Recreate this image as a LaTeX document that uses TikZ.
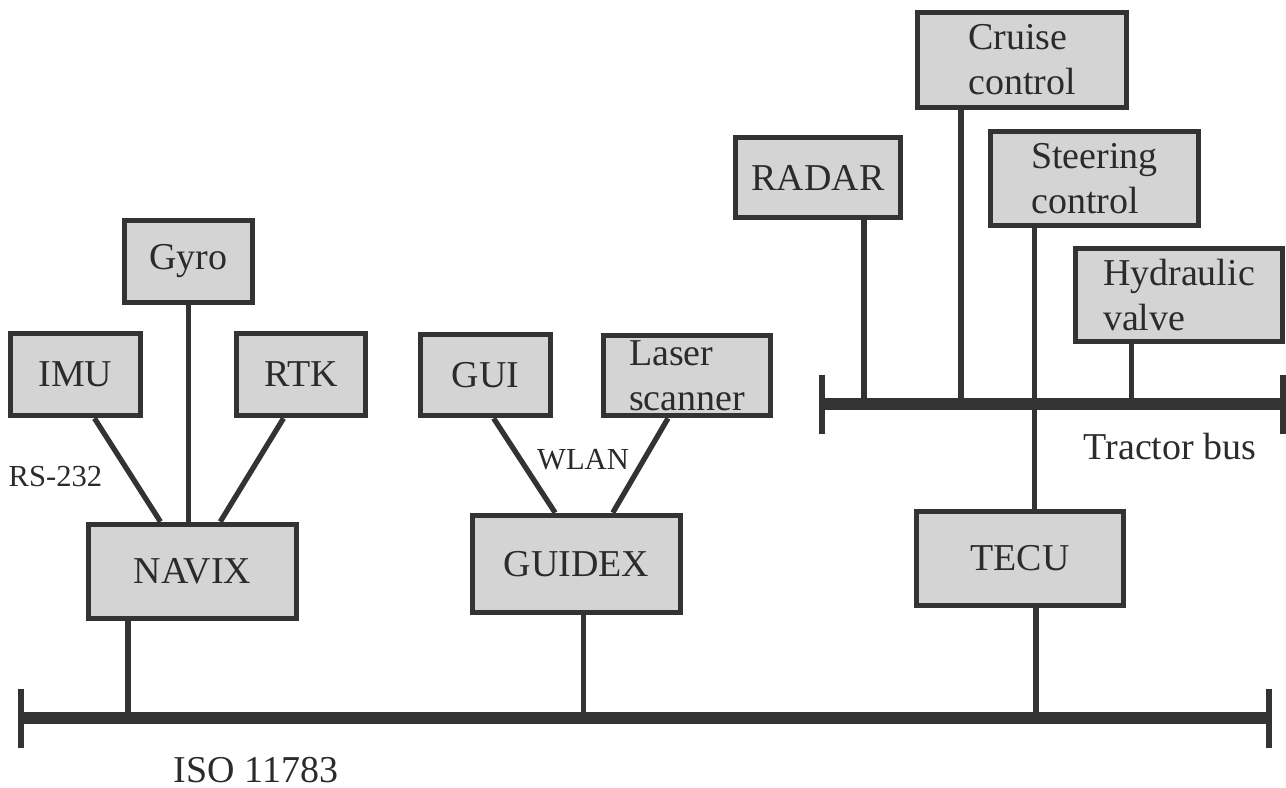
\documentclass[tikz,border=0pt]{standalone}
\usepackage{fontspec}
\setmainfont{Liberation Serif}
\usetikzlibrary{calc}
\definecolor{linegray}{HTML}{333333}
\definecolor{boxgray}{HTML}{D4D4D4}
\definecolor{textgray}{HTML}{2B2B2B}
\begin{document}
\begin{tikzpicture}[
  unit/.style={draw=linegray,fill=boxgray,line width=1.6pt,inner sep=1pt,
    align=left,text=textgray,font=\fontsize{10.8}{12.8}\selectfont},
  link/.style={draw=linegray,line width=1.5pt},
  bus/.style={draw=linegray,line width=3.2pt},
  busend/.style={draw=linegray,line width=1.6pt},
  lbl/.style={text=textgray,font=\fontsize{10.8}{12.8}\selectfont,inner sep=0pt},
  small/.style={text=textgray,font=\fontsize{8.7}{10}\selectfont,inner sep=0pt}]
  \useasboundingbox (0,0) rectangle (12.86,-7.87);

  % Navigation
  \node[unit,minimum width=1.28cm,minimum height=0.82cm] (gyro) at(1.885,-2.615) {Gyro};
  \node[unit,minimum width=1.30cm,minimum height=0.82cm] (imu) at(0.755,-3.745) {IMU};
  \node[unit,minimum width=1.29cm,minimum height=0.82cm] (rtk) at(3.01,-3.745) {RTK};
  \node[unit,minimum width=2.08cm,minimum height=0.94cm] (navix) at(1.925,-5.715) {NAVIX};

  % Guidance
  \node[unit,minimum width=1.30cm,minimum height=0.81cm] (gui) at(4.855,-3.75) {GUI};
  \node[unit,minimum width=1.67cm,minimum height=0.80cm] (laser) at(6.87,-3.755) {Laser\\scanner};
  \node[unit,minimum width=2.08cm,minimum height=0.97cm] (guidex) at(5.765,-5.64) {GUIDEX};

  % Tractor
  \node[unit,minimum width=2.09cm,minimum height=0.95cm] (cruise) at(10.22,-0.60) {Cruise\\control};
  \node[unit,minimum width=1.65cm,minimum height=0.80cm] (radar) at(8.18,-1.775) {RADAR};
  \node[unit,minimum width=2.08cm,minimum height=0.94cm] (steer) at(10.945,-1.785) {Steering\\control};
  \node[unit,minimum width=2.07cm,minimum height=0.93cm] (hydr) at(11.79,-2.95) {Hydraulic\\valve};
  \node[unit,minimum width=2.07cm,minimum height=0.94cm] (tecu) at(10.20,-5.585) {TECU};

  % buses
  \coordinate (isoL) at (0.21,-7.18);
  \coordinate (isoR) at (12.69,-7.18);
  \coordinate (tbL) at (8.22,-4.04);
  \coordinate (tbR) at (12.83,-4.04);
  \draw[bus] (isoL) -- (isoR);
  \draw[bus] (tbL) -- (tbR);
  \foreach \p in {isoL,isoR,tbL,tbR}{
    \draw[busend] ([yshift=2.95mm]\p) -- ([yshift=-2.95mm]\p);
  }

  % serial links to NAVIX
  \draw[link] ($(imu.south west)!0.64!(imu.south east)$) -- ($(navix.north west)!0.35!(navix.north east)$);
  \draw[link] (gyro.south) -- (gyro.south |- navix.north);
  \draw[link] ($(rtk.south west)!0.37!(rtk.south east)$) -- ($(navix.north west)!0.63!(navix.north east)$);

  % WLAN links to GUIDEX
  \draw[link] ($(gui.south west)!0.56!(gui.south east)$) -- ($(guidex.north west)!0.40!(guidex.north east)$);
  \draw[link] ($(laser.south west)!0.39!(laser.south east)$) -- ($(guidex.north west)!0.67!(guidex.north east)$);

  % drops to the buses
  \draw[link] ([xshift=-6.45mm]navix.south) -- ([xshift=-6.45mm]navix.south |- isoL);
  \draw[link] ([xshift=0.7mm]guidex.south) -- ([xshift=0.7mm]guidex.south |- isoL);
  \draw[link] ([xshift=1.6mm]tecu.south) -- ([xshift=1.6mm]tecu.south |- isoL);
  \draw[link] ([xshift=4.6mm]radar.south) -- ([xshift=4.6mm]radar.south |- tbL);
  \draw[link] ([xshift=-6.1mm]cruise.south) -- ([xshift=-6.1mm]cruise.south |- tbL);
  \draw[link] ([xshift=-6mm]steer.south) -- ([xshift=-6mm]steer.south |- tecu.north);
  \draw[link] ([xshift=-4.75mm]hydr.south) -- ([xshift=-4.75mm]hydr.south |- tbL);

  % labels
  \node[small,anchor=west] (rs) at(0.08,-4.77) {RS-232};
  \node[small] (wlan) at(5.83,-4.60) {WLAN};
  \node[lbl] (tbus) at(11.70,-4.47) {Tractor bus};
  \node[lbl] (iso) at(2.56,-7.70) {ISO 11783};
\end{tikzpicture}
\end{document}
